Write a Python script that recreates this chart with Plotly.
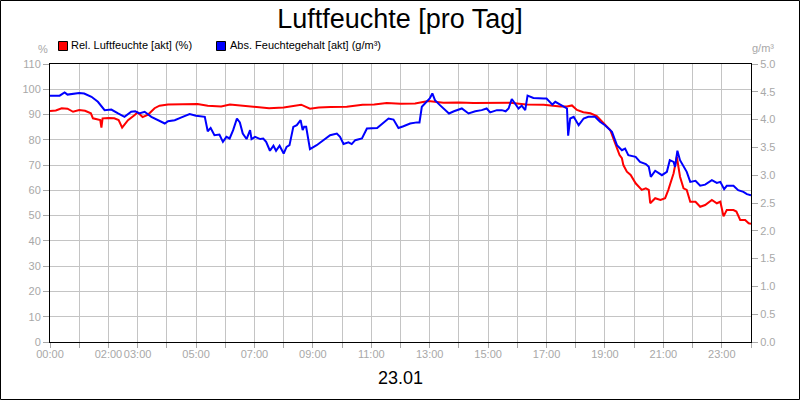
import plotly.graph_objects as go

# ---- data ----
rel_t = [0, 0.2, 0.4, 0.6, 0.79, 1.0, 1.2, 1.4, 1.47, 1.6, 1.72, 1.76, 1.8, 2.0, 2.2, 2.35, 2.47, 2.55, 2.67, 2.9,
         3.0, 3.17, 3.36, 3.58, 3.75, 4.04, 4.5, 5.05, 5.4, 5.86, 6.16, 6.6, 7.0, 7.5, 8.0, 8.6, 8.9, 9.2, 9.6, 10.16,
         10.7, 11.1, 11.53, 12.0, 12.5, 12.95, 13.47, 14.0, 14.5, 15.0, 15.75, 16.3, 16.9, 17.47, 17.7, 17.87, 18.04,
         18.26, 18.5, 18.72, 19.0, 19.18, 19.35, 19.5, 19.58, 19.63, 19.75, 19.88, 20.05, 20.26, 20.4, 20.5, 20.55,
         20.72, 20.9, 21.06, 21.17, 21.35, 21.46, 21.57, 21.69, 21.8, 21.92, 22.1, 22.26, 22.43, 22.66, 22.83, 22.95,
         23.06, 23.17, 23.4, 23.5, 23.63, 23.8, 23.92, 24.0]
rel_v = [91.4, 91.6, 92.5, 92.3, 91.1, 91.8, 91.5, 90.5, 88.5, 88.0, 87.8, 84.8, 88.5, 88.6, 88.5, 87.8, 84.8, 86.0,
         87.8, 89.8, 90.9, 89.0, 90.0, 92.5, 93.5, 94.0, 94.1, 94.2, 93.5, 93.2, 94.0, 93.5, 93.2, 92.5, 92.8, 93.9,
         92.3, 92.8, 93.0, 93.1, 93.9, 94.0, 94.6, 94.3, 94.4, 95.4, 94.7, 94.8, 94.6, 94.7, 94.7, 94.0, 93.9, 93.2,
         93.2, 93.6, 91.8, 90.9, 90.5, 89.4, 85.9, 83.9, 78.6, 74.0, 72.7, 70.0, 67.4, 66.1, 62.8, 60.2, 60.8, 60.2,
         54.9, 56.9, 56.2, 56.9, 60.2, 66.8, 73.3, 65.4, 60.8, 60.2, 55.5, 55.5, 53.5, 54.2, 56.2, 54.9, 55.5, 49.7,
         52.2, 52.2, 51.6, 48.3, 48.3, 47.0, 46.8]

abs_t = [0, 0.33, 0.5, 0.6, 1.0, 1.17, 1.42, 1.64, 1.87, 2.1,
         2.33, 2.55, 2.78, 2.92, 3.05, 3.24, 3.47, 3.7, 3.93, 4.04,
         4.27, 4.5, 4.78, 5.0, 5.3, 5.4, 5.5, 5.63, 5.8, 5.92,
         6.04, 6.15, 6.27, 6.4, 6.5, 6.6, 6.73, 6.85, 6.9, 7.02,
         7.2, 7.3, 7.4, 7.53, 7.65, 7.74, 7.86, 8.0, 8.1, 8.2,
         8.33, 8.45, 8.58, 8.65, 8.7, 8.77, 8.9, 9.13, 9.36, 9.59,
         9.82, 9.93, 10.05, 10.22, 10.33, 10.45, 10.68, 10.85, 11.2, 11.4,
         11.59, 11.76, 11.93, 12.1, 12.33, 12.56, 12.65, 12.73, 12.84, 13.0,
         13.09, 13.18, 13.35, 13.5, 13.66, 13.83, 14.1, 14.33, 14.56, 14.78,
         14.95, 15.07, 15.3, 15.47, 15.6, 15.7, 15.81, 15.92, 16.04, 16.15,
         16.27, 16.35, 16.55, 16.9, 17.0, 17.2, 17.3, 17.53, 17.7, 17.74,
         17.81, 17.93, 18.1, 18.27, 18.43, 18.66, 18.83, 19.0, 19.24, 19.41,
         19.58, 19.69, 19.8, 20.05, 20.2, 20.4, 20.5, 20.57, 20.72, 20.95,
         21.12, 21.22, 21.35, 21.4, 21.48, 21.57, 21.69, 21.8, 21.92, 22.1,
         22.26, 22.43, 22.66, 22.83, 22.95, 23.08, 23.17, 23.4, 23.56, 23.74,
         23.86, 24.0]
abs_v = [4.43, 4.43, 4.49, 4.45, 4.48, 4.47, 4.41, 4.32, 4.17, 4.18,
         4.11, 4.05, 4.14, 4.15, 4.11, 4.14, 4.05, 3.99, 3.93, 3.97,
         3.99, 4.04, 4.10, 4.07, 4.05, 3.79, 3.85, 3.72, 3.73, 3.60,
         3.69, 3.66, 3.81, 4.02, 3.95, 3.75, 3.65, 3.81, 3.65, 3.69,
         3.65, 3.66, 3.60, 3.44, 3.53, 3.44, 3.53, 3.39, 3.51, 3.54,
         3.87, 3.90, 3.99, 3.81, 3.87, 3.87, 3.47, 3.54, 3.63, 3.72,
         3.75, 3.69, 3.56, 3.59, 3.56, 3.63, 3.66, 3.84, 3.85, 3.93,
         4.02, 4.00, 3.85, 3.88, 3.93, 3.95, 3.95, 4.23, 4.29, 4.38,
         4.47, 4.35, 4.26, 4.19, 4.11, 4.15, 4.20, 4.11, 4.15, 4.17,
         4.20, 4.13, 4.17, 4.17, 4.15, 4.20, 4.37, 4.29, 4.20, 4.25,
         4.17, 4.43, 4.39, 4.38, 4.38, 4.27, 4.32, 4.25, 4.20, 3.71,
         4.02, 4.05, 3.90, 4.02, 4.05, 4.05, 3.96, 3.90, 3.78, 3.54,
         3.45, 3.48, 3.36, 3.33, 3.24, 3.20, 3.15, 2.97, 3.08, 3.00,
         3.06, 3.27, 3.24, 3.15, 3.44, 3.27, 3.15, 3.06, 2.88, 2.90,
         2.81, 2.83, 2.91, 2.86, 2.88, 2.75, 2.81, 2.81, 2.73, 2.70,
         2.66, 2.64]

hour_ticks = list(range(25))
hour_labels = ["00:00", "", "02:00", "03:00", "", "05:00", "", "07:00", "", "09:00", "", "11:00", "",
               "13:00", "", "15:00", "", "17:00", "", "19:00", "", "21:00", "", "23:00", ""]

series_names = ["Rel. Luftfeuchte [akt] (%)", "Abs. Feuchtegehalt [akt] (g/m³)"]
title_text = "Luftfeuchte [pro Tag]"
date_text = "23.01"

# ---- layout geometry (pixels) ----
W, H = 800, 400
L, R, T, B = 50, 751, 64, 342
PW, PH = R - L, B - T

def px(x):
    return (x - L) / PW

def py(y):
    return (B - y) / PH

FONT = "Liberation Sans, Arial, sans-serif"
TICKC = "#a8a8a8"
GRIDC = "#c4c4c4"

fig = go.Figure()
fig.add_trace(go.Scatter(x=rel_t, y=rel_v, mode="lines", name=series_names[0],
                         line=dict(color="#ff0000", width=2), yaxis="y", showlegend=False))
fig.add_trace(go.Scatter(x=abs_t, y=abs_v, mode="lines", name=series_names[1],
                         line=dict(color="#0000ff", width=2), yaxis="y2", showlegend=False))

fig.update_layout(
    width=W, height=H,
    margin=dict(l=L, r=W - R, t=T, b=H - B, pad=0, autoexpand=False),
    paper_bgcolor="white", plot_bgcolor="white",
    font=dict(family=FONT, size=11, color=TICKC),
    title=dict(text=title_text, x=0.5, xanchor="center", xref="container",
               y=1 - 19 / H, yanchor="middle", yref="container",
               font=dict(family=FONT, size=27, color="black")),
    xaxis=dict(range=[0, 24], tickvals=hour_ticks, ticktext=hour_labels, tickangle=0,
               automargin=False, ticklabelstandoff=-3,
               showgrid=True, gridcolor=GRIDC, gridwidth=1,
               ticks="outside", ticklen=5, tickcolor=TICKC,
               showline=True, linecolor="black", linewidth=1, mirror=True,
               zeroline=False, tickfont=dict(size=11, color=TICKC, family=FONT)),
    yaxis=dict(range=[0, 110], dtick=10, tick0=0, automargin=False,
               showgrid=True, gridcolor=GRIDC, gridwidth=1,
               ticks="outside", ticklen=6, tickcolor=TICKC,
               showline=True, linecolor="black", linewidth=1,
               zeroline=False, tickfont=dict(size=11, color=TICKC, family=FONT)),
    yaxis2=dict(range=[0, 5], dtick=0.5, tick0=0, tickformat=".1f", automargin=False,
                overlaying="y", side="right", showgrid=False,
                ticks="outside", ticklen=6, tickcolor=TICKC,
                showline=True, linecolor="black", linewidth=1,
                zeroline=False, tickfont=dict(size=11, color=TICKC, family=FONT)),
    showlegend=False,
)

shapes = []
# outer frame
shapes.append(dict(type="rect", xref="paper", yref="paper",
                   x0=px(0.5), x1=px(W - 0.5), y0=py(H - 0.5), y1=py(0.5),
                   line=dict(color="black", width=1), fillcolor="rgba(0,0,0,0)", layer="above"))
# legend squares
for x0, col in [(58, "#ff0000"), (216, "#0000ff")]:
    shapes.append(dict(type="rect", xref="paper", yref="paper",
                       x0=px(x0 + 0.5), x1=px(x0 + 9.5), y0=py(50.5), y1=py(41.5),
                       line=dict(color="black", width=1), fillcolor=col))
fig.update_layout(shapes=shapes)

ann = [
    dict(text=series_names[0], x=px(69), y=py(45.5), xanchor="left", yanchor="middle",
         font=dict(size=11, color="black", family=FONT)),
    dict(text=series_names[1], x=px(228), y=py(45.5), xanchor="left", yanchor="middle",
         font=dict(size=11, color="black", family=FONT)),
    dict(text="%", x=px(43), y=py(49), xanchor="center", yanchor="middle",
         font=dict(size=11, color=TICKC, family=FONT)),
    dict(text="g/m³", x=px(763), y=py(48), xanchor="center", yanchor="middle",
         font=dict(size=11, color=TICKC, family=FONT)),
    dict(text=date_text, x=px(400), y=py(378), xanchor="center", yanchor="middle",
         font=dict(size=18, color="black", family=FONT)),
]
for a in ann:
    a.update(xref="paper", yref="paper", showarrow=False)
fig.update_layout(annotations=ann)

fig.write_html("out.html", config={"displayModeBar": False},
               post_script="document.body.style.margin='0';document.body.style.padding='0';")
